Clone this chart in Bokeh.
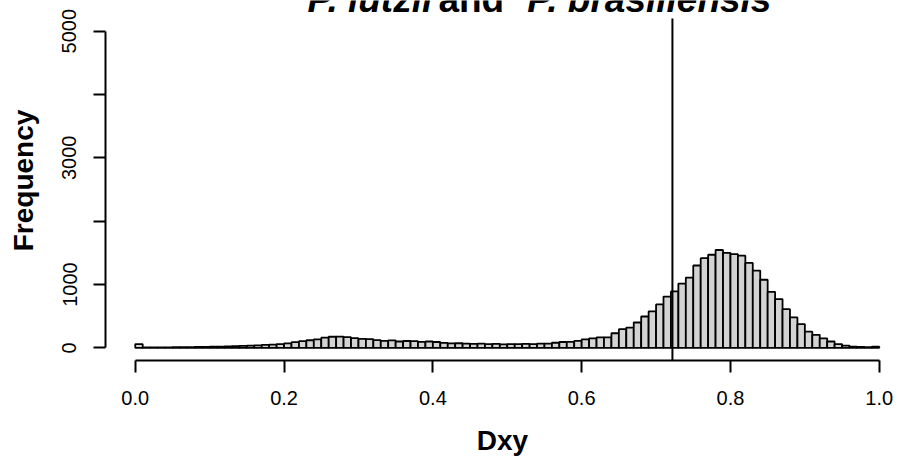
from bokeh.plotting import figure
from bokeh.models import FixedTicker, Range1d, PrintfTickFormatter
from bokeh.core.properties import value
from bokeh.embed import file_html
from bokeh.resources import INLINE

# ---- data ----
bin_width = 0.01
bin_starts = [i * bin_width for i in range(100)]
counts = [
    60, 8, 6, 6, 8, 10, 10, 12, 14, 16,
    18, 20, 22, 26, 30, 35, 40, 46, 52, 60,
    70, 90, 105, 120, 135, 160, 175, 178, 168, 152,
    142, 138, 122, 110, 118, 100, 108, 105, 95, 100,
    92, 78, 70, 72, 68, 62, 66, 60, 64, 55,
    60, 58, 62, 60, 66, 68, 80, 92, 95, 110,
    135, 150, 165, 165, 230, 295, 320, 400, 495, 575,
    685, 810, 890, 1015, 1110, 1300, 1415, 1470, 1545, 1500,
    1480, 1455, 1340, 1220, 1075, 885, 770, 610, 480, 375,
    255, 205, 150, 100, 60, 35, 20, 15, 10, 18,
]
cutoff = 0.722
x_ticks = [0.0, 0.2, 0.4, 0.6, 0.8, 1.0]
y_ticks = [0, 1000, 2000, 3000, 4000, 5000]
y_hidden_labels = [2000, 4000]
y_plot_min, y_plot_max = -200, 5200   # R's padded plot region
title_parts = ["P. lutzii", "and", "P. brasiliensis"]
title_styles = ["bold italic", "bold", "bold italic"]
title_x = [0.2315, 0.4075, 0.527]

FONT = "Liberation Sans"

# frame reaches the canvas top so the (cut-off) title can be drawn as text
px_per_unit = 342 / (y_plot_max - y_plot_min)
y_top = y_plot_max + 18 / px_per_unit

p = figure(width=899, height=461, output_backend="svg", toolbar_location=None,
           x_range=Range1d(-0.04, 1.0272), y_range=Range1d(y_plot_min, y_top),
           min_border_left=105, min_border_right=0, min_border_top=0,
           min_border_bottom=101)
p.outline_line_color = None
p.grid.visible = False
p.background_fill_color = "white"

lefts = bin_starts
rights = [b + bin_width for b in bin_starts]
p.quad(left=lefts, right=rights, bottom=0, top=counts,
       fill_color="#D3D3D3", line_color="black", line_width=1.8)

# vertical reference line over the plot region
p.segment(x0=[cutoff], y0=[y_plot_min], x1=[cutoff], y1=[y_plot_max],
          line_color="black", line_width=2)

for ax in (p.xaxis[0], p.yaxis[0]):
    ax.axis_line_width = 2
    ax.major_tick_line_width = 2
    ax.major_tick_out = 12
    ax.major_tick_in = 0
    ax.minor_tick_line_color = None
    ax.major_label_text_font = FONT
    ax.major_label_text_font_size = "20px"
    ax.major_label_text_color = "black"
    ax.axis_label_text_font = FONT
    ax.axis_label_text_font_size = "28px"
    ax.axis_label_text_font_style = "bold"
    ax.axis_label_text_color = "black"

xa = p.xaxis[0]
xa.bounds = (0, 1)
xa.ticker = FixedTicker(ticks=x_ticks)
xa.formatter = PrintfTickFormatter(format="%.1f")
xa.major_label_standoff = 18
xa.axis_label = "Dxy"
xa.axis_label_standoff = 17

ya = p.yaxis[0]
ya.bounds = (0, 5000)
ya.ticker = FixedTicker(ticks=y_ticks)
ya.major_label_overrides = {v: "" for v in y_hidden_labels}
ya.major_label_orientation = "vertical"
ya.major_label_standoff = 17
ya.axis_label = "Frequency"
ya.axis_label_standoff = 21

# Title: glyph baseline ~6 px above the plot region, mostly cut off as in the reference
title_anchor = y_plot_max - 1.5 / px_per_unit   # bottom of text box (below descenders)
for txt, x0, style in zip(title_parts, title_x, title_styles):
    p.text(x=[x0], y=[title_anchor], text=[txt], text_font=value(FONT),
           text_font_size="37px", text_font_style=style, text_color="black",
           text_baseline="bottom", text_align="left")

open("out.html", "w").write(file_html(p, INLINE))
